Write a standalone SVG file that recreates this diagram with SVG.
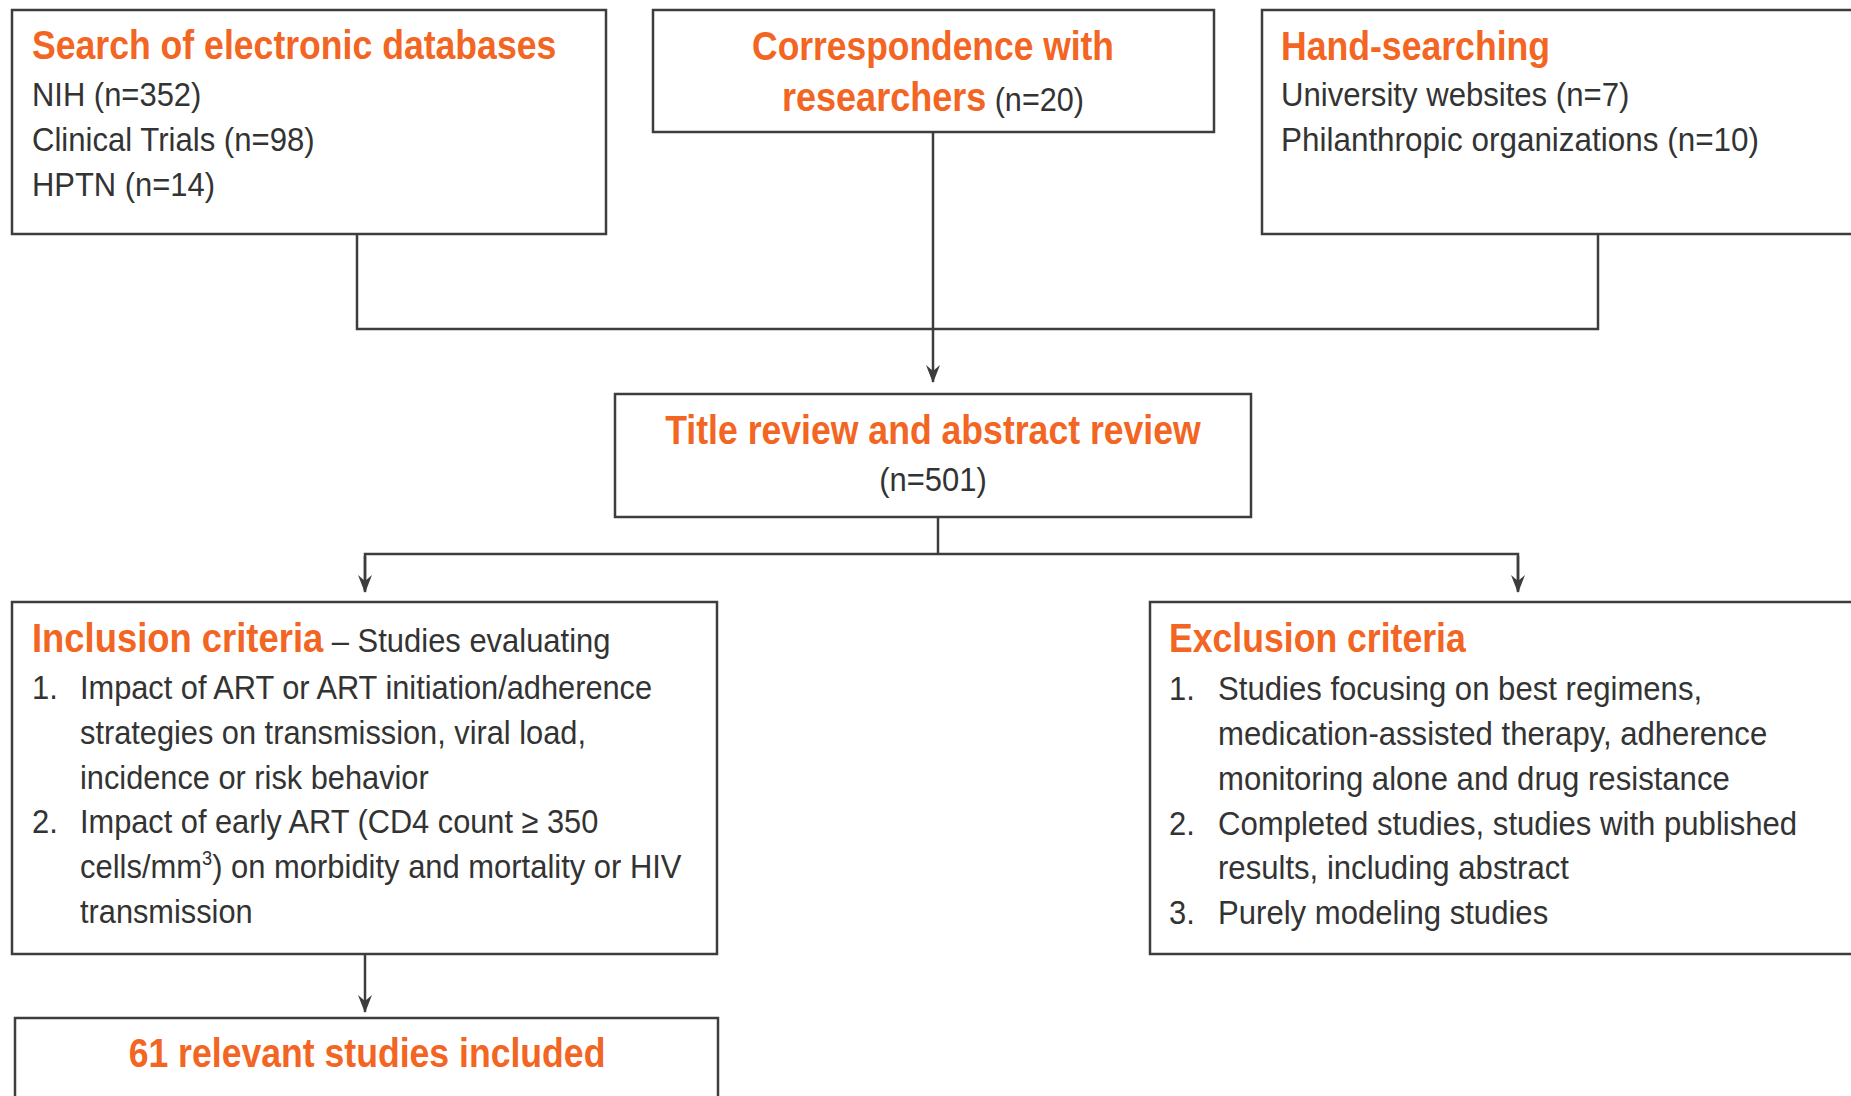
<svg xmlns="http://www.w3.org/2000/svg" width="1851" height="1096" viewBox="0 0 1851 1096">
<style>
.box{fill:#fff;stroke:#3d3d3d;stroke-width:2.5}
.h{font-family:"Liberation Sans",Arial,sans-serif;font-weight:bold;fill:#f26522;font-size:40px}
.t{font-family:"Liberation Sans",Arial,sans-serif;fill:#333;font-size:34px}
.c{text-anchor:middle}
.ln{fill:none;stroke:#3d3d3d;stroke-width:2.5}
</style>
<defs>
<marker id="arr" markerWidth="18" markerHeight="14" refX="17" refY="7" orient="auto" markerUnits="userSpaceOnUse" viewBox="0 0 18 14">
<path d="M0,0 L18,7 L0,14 L6,7 Z" fill="#3d3d3d"/>
</marker>
</defs>
<g id="connectors">
<polyline class="ln" points="357,234 357,329 1598,329 1598,234"/>
<line class="ln" x1="933" y1="132" x2="933" y2="382" marker-end="url(#arr)"/>
<polyline class="ln" points="365,591 365,554 1518,554 1518,591"/>
<line class="ln" x1="938" y1="517" x2="938" y2="554"/>
<line class="ln" x1="365" y1="556" x2="365" y2="592" marker-end="url(#arr)"/>
<line class="ln" x1="1518" y1="556" x2="1518" y2="592" marker-end="url(#arr)"/>
<line class="ln" x1="365" y1="954" x2="365" y2="1012" marker-end="url(#arr)"/>
</g>
<g id="search">
<rect class="box" x="12" y="10" width="594" height="224"/>
<text class="h" transform="translate(32,59) scale(0.89,1)">Search of electronic databases</text>
<text class="t" transform="translate(32,106) scale(0.91,1)">NIH (n=352)</text>
<text class="t" transform="translate(32,151) scale(0.915,1)">Clinical Trials (n=98)</text>
<text class="t" transform="translate(32,196) scale(0.91,1)">HPTN (n=14)</text>
</g>
<g id="correspondence">
<rect class="box" x="653" y="10" width="561" height="122"/>
<text class="h c" transform="translate(933,60) scale(0.885,1)">Correspondence with</text>
<text class="c" transform="translate(933,111) scale(0.9,1)"><tspan class="h">researchers</tspan><tspan class="t"> (n=20)</tspan></text>
</g>
<g id="hand">
<rect class="box" x="1262" y="10" width="600" height="224"/>
<text class="h" transform="translate(1281,60) scale(0.89,1)">Hand-searching</text>
<text class="t" transform="translate(1281,106) scale(0.915,1)">University websites (n=7)</text>
<text class="t" transform="translate(1281,151) scale(0.925,1)">Philanthropic organizations (n=10)</text>
</g>
<g id="title">
<rect class="box" x="615" y="394" width="636" height="123"/>
<text class="h c" transform="translate(933,444) scale(0.89,1)">Title review and abstract review</text>
<text class="t c" transform="translate(933,491) scale(0.91,1)">(n=501)</text>
</g>
<g id="inclusion">
<rect class="box" x="12" y="602" width="705" height="352"/>
<text transform="translate(32,652) scale(0.91,1)"><tspan class="h">Inclusion criteria</tspan><tspan class="t"> – Studies evaluating</tspan></text>
<text class="t" transform="translate(32,699) scale(0.91,1)">1.</text>
<text class="t" transform="translate(80,699) scale(0.905,1)">Impact of ART or ART initiation/adherence</text>
<text class="t" transform="translate(80,744) scale(0.905,1)">strategies on transmission, viral load,</text>
<text class="t" transform="translate(80,789) scale(0.905,1)">incidence or risk behavior</text>
<text class="t" transform="translate(32,833) scale(0.91,1)">2.</text>
<text class="t" transform="translate(80,833) scale(0.905,1)">Impact of early ART (CD4 count ≥ 350</text>
<text class="t" transform="translate(80,878) scale(0.91,1)">cells/mm<tspan font-size="20" dy="-13">3</tspan><tspan dy="13">) on morbidity and mortality or HIV</tspan></text>
<text class="t" transform="translate(80,923) scale(0.905,1)">transmission</text>
</g>
<g id="exclusion">
<rect class="box" x="1150" y="602" width="712" height="352"/>
<text class="h" transform="translate(1169,652) scale(0.89,1)">Exclusion criteria</text>
<text class="t" transform="translate(1169,700) scale(0.91,1)">1.</text>
<text class="t" transform="translate(1218,700) scale(0.915,1)">Studies focusing on best regimens,</text>
<text class="t" transform="translate(1218,745) scale(0.915,1)">medication-assisted therapy, adherence</text>
<text class="t" transform="translate(1218,790) scale(0.915,1)">monitoring alone and drug resistance</text>
<text class="t" transform="translate(1169,835) scale(0.91,1)">2.</text>
<text class="t" transform="translate(1218,835) scale(0.915,1)">Completed studies, studies with published</text>
<text class="t" transform="translate(1218,879) scale(0.915,1)">results, including abstract</text>
<text class="t" transform="translate(1169,924) scale(0.91,1)">3.</text>
<text class="t" transform="translate(1218,924) scale(0.915,1)">Purely modeling studies</text>
</g>
<g id="included">
<rect class="box" x="15" y="1018" width="703" height="100"/>
<text class="h c" transform="translate(367,1067) scale(0.89,1)">61 relevant studies included</text>
</g>
</svg>
